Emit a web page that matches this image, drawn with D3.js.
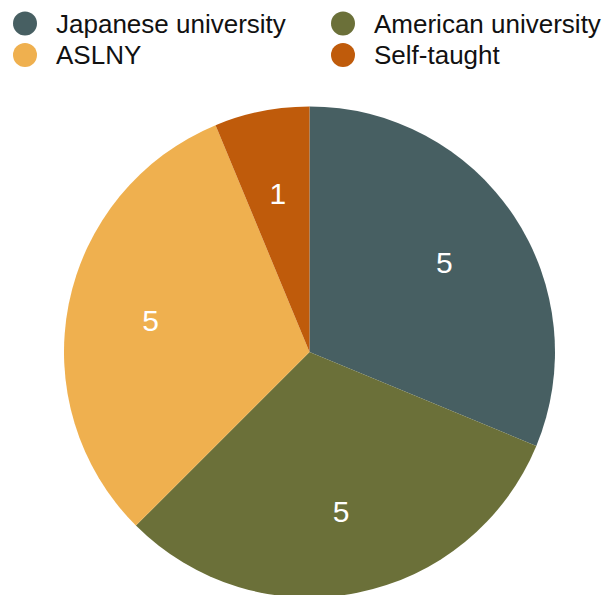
<!DOCTYPE html>
<html>
<head>
<meta charset="utf-8">
<script src="https://cdn.jsdelivr.net/npm/d3@7"></script>
<style>
  body { margin: 0; background: #fff; }
  svg { display: block; font-family: "Liberation Sans", Arial, Helvetica, sans-serif; }
</style>
</head>
<body>
<div id="chart"></div>
<script>
var categories = ["Japanese university", "American university", "ASLNY", "Self-taught"];
var counts = [5, 5, 5, 1];
var colors = ["#475f62", "#6b7039", "#efb04f", "#bf5b0b"];

var width = 608, height = 595;
var cx = 309.5, cy = 352, radius = 245.5;

var svg = d3.select("#chart").append("svg")
    .attr("width", width)
    .attr("height", height);

var color = d3.scaleOrdinal().domain(categories).range(colors);

var data = categories.map(function(c, i) { return { name: c, value: counts[i] }; });

var pie = d3.pie().sort(null).value(function(d) { return d.value; });
var arc = d3.arc().innerRadius(0).outerRadius(radius);
// labels sit about two thirds of the way out
var labelArc = d3.arc().innerRadius(radius * 0.66).outerRadius(radius * 0.66);

var g = svg.append("g").attr("transform", "translate(" + cx + "," + cy + ")");

var slices = g.selectAll("g.slice")
    .data(pie(data))
    .enter().append("g")
    .attr("class", "slice");

slices.append("path")
    .attr("d", arc)
    .attr("fill", function(d) { return color(d.data.name); });

slices.append("text")
    .attr("transform", function(d) { return "translate(" + labelArc.centroid(d) + ")"; })
    .attr("text-anchor", "middle")
    .attr("dy", "0.36em")
    .attr("fill", "#fff")
    .attr("font-size", 30)
    .text(function(d) { return d.data.value; });

// legend, two columns
var legend = svg.append("g");
var items = legend.selectAll("g.item")
    .data(categories)
    .enter().append("g")
    .attr("class", "item")
    .attr("transform", function(d, i) {
      var col = i % 2, row = Math.floor(i / 2);
      return "translate(" + (25 + col * 318) + "," + (23.5 + row * 31.5) + ")";
    });

items.append("circle")
    .attr("r", 12)
    .attr("fill", function(d) { return color(d); });

items.append("text")
    .attr("x", 31)
    .attr("dy", "0.36em")
    .attr("font-size", 26)
    .attr("fill", "#111")
    .text(function(d) { return d; });
</script>
</body>
</html>
